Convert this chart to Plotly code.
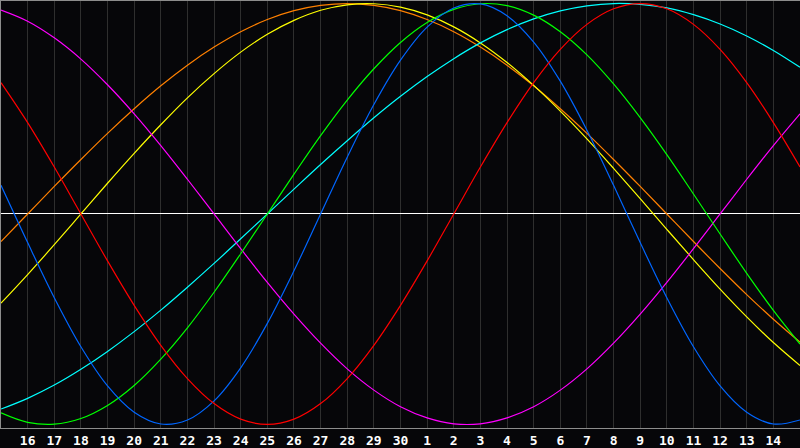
import plotly.graph_objects as go

# day labels under the grid (index 0 = the 16th)
day_labels = ["16", "17", "18", "19", "20", "21", "22", "23", "24", "25", "26", "27", "28", "29", "30",
              "1", "2", "3", "4", "5", "6", "7", "8", "9", "10", "11", "12", "13", "14"]
# one sample per day, from the day before the first label to the day after the last
days = list(range(-1, 30))

physical = [0.136, -0.136, -0.398, -0.631, -0.817, -0.942, -0.998, -0.979, -0.888, -0.731, -0.520,
            -0.270, 0.0, 0.270, 0.520, 0.731, 0.888, 0.979, 0.998, 0.942, 0.817, 0.631, 0.398,
            0.136, -0.136, -0.398, -0.631, -0.817, -0.942, -0.998, -0.979]
emotional = [0.624, 0.434, 0.223, 0.0, -0.223, -0.434, -0.624, -0.782, -0.901, -0.975, -1.0,
             -0.975, -0.901, -0.782, -0.624, -0.434, -0.223, 0.0, 0.223, 0.434, 0.624, 0.782,
             0.901, 0.975, 1.0, 0.975, 0.901, 0.782, 0.624, 0.434, 0.223]
intellectual = [-0.945, -0.990, -0.999, -0.972, -0.910, -0.815, -0.690, -0.541, -0.372, -0.189, 0.0,
                0.189, 0.372, 0.541, 0.690, 0.815, 0.910, 0.972, 0.999, 0.990, 0.945, 0.866,
                0.756, 0.618, 0.458, 0.282, 0.095, -0.095, -0.282, -0.458, -0.618]
intuitive = [0.969, 0.916, 0.837, 0.736, 0.614, 0.476, 0.325, 0.165, 0.0, -0.165, -0.325,
             -0.476, -0.614, -0.736, -0.837, -0.916, -0.969, -0.997, -0.997, -0.969, -0.916,
             -0.837, -0.736, -0.614, -0.476, -0.325, -0.165, 0.0, 0.165, 0.325, 0.476]
aesthetic = [-0.424, -0.288, -0.146, 0.0, 0.146, 0.288, 0.424, 0.552, 0.667, 0.769, 0.854,
             0.920, 0.968, 0.994, 0.999, 0.983, 0.946, 0.889, 0.813, 0.720, 0.611, 0.489,
             0.357, 0.217, 0.073, -0.073, -0.217, -0.357, -0.489, -0.611, -0.720]
awareness = [-0.131, 0.0, 0.131, 0.259, 0.383, 0.5, 0.609, 0.707, 0.793, 0.866, 0.924,
             0.966, 0.991, 1.0, 0.991, 0.966, 0.924, 0.866, 0.793, 0.707, 0.609, 0.5,
             0.383, 0.259, 0.131, 0.0, -0.131, -0.259, -0.383, -0.5, -0.609]
spiritual = [-0.927, -0.876, -0.813, -0.738, -0.653, -0.559, -0.457, -0.348, -0.235, -0.118, 0.0,
             0.118, 0.235, 0.348, 0.457, 0.559, 0.653, 0.738, 0.813, 0.876, 0.927, 0.965,
             0.989, 1.0, 0.996, 0.979, 0.947, 0.903, 0.846, 0.777, 0.697]

series = [
    ("Awareness", awareness, "#ff8000"),
    ("Aesthetic", aesthetic, "#ffff00"),
    ("Spiritual", spiritual, "#00ffff"),
    ("Intuitive", intuitive, "#ff00ff"),
    ("Intellectual", intellectual, "#00ff00"),
    ("Physical", physical, "#0066ff"),
    ("Emotional", emotional, "#ff0000"),
]

fig = go.Figure()
for name, vals, col in series:
    fig.add_trace(go.Scatter(x=days, y=vals, name=name, mode="lines",
                             line=dict(color=col, width=1.2, shape="spline")))

# white line through today
fig.add_shape(type="line", x0=14, x1=14, y0=0, y1=1, xref="x", yref="paper",
              line=dict(color="white", width=1), layer="between")

fig.update_layout(
    width=800, height=448,
    margin=dict(l=1, r=0, t=1, b=20),
    plot_bgcolor="#060609", paper_bgcolor="#060609",
    showlegend=False,
    xaxis=dict(range=[-1, 29], tickvals=list(range(len(day_labels))), ticktext=day_labels,
               showgrid=True, gridcolor="#2e2e2e", gridwidth=1, zeroline=False,
               showline=True, linecolor="#8c8c8c", linewidth=1, mirror=True,
               ticks="", tickfont=dict(family="DejaVu Sans Mono", size=13, color="white", weight="bold")),
    yaxis=dict(range=[-1.017, 1.012], showgrid=False, showticklabels=False,
               zeroline=True, zerolinecolor="white", zerolinewidth=1,
               showline=True, linecolor="#8c8c8c", linewidth=1, mirror=True),
)

# the page's default body margin would push the chart off the window
fig.write_html("out.html", config={"displayModeBar": False},
               post_script="document.body.style.margin='0';document.body.style.background='#060609';")
